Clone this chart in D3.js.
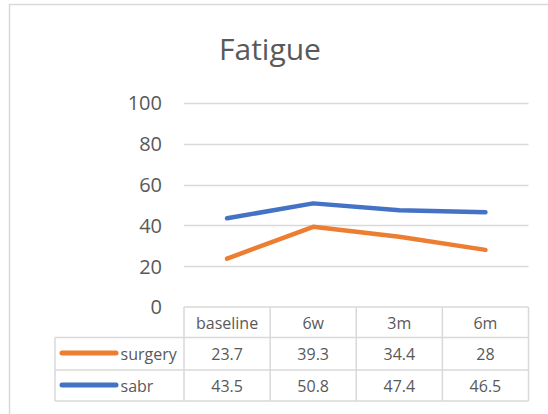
<!DOCTYPE html>
<html><head><meta charset="utf-8">
<script src="https://cdn.jsdelivr.net/npm/d3@7"></script>
<style>html,body{margin:0;padding:0;background:#fff;}svg{display:block;}</style>
</head><body>
<script>
const categories = ["baseline", "6w", "3m", "6m"];
const surgery = [23.7, 39.3, 34.4, 28];
const sabr = [43.5, 50.8, 47.4, 46.5];
const seriesNames = ["surgery", "sabr"];
const yTicks = [0, 20, 40, 60, 80, 100];
const title = "Fatigue";

const W = 548, H = 414;
const font = "'Open Sans', sans-serif";
const textColor = "#595959";
const gridColor = "#d9d9d9";
const colors = {surgery: "#ED7D31", sabr: "#4472C4"};
const series = [{name: "surgery", values: surgery}, {name: "sabr", values: sabr}];

const svg = d3.select("body").append("svg").attr("width", W).attr("height", H);
svg.append("rect").attr("width", W).attr("height", H).attr("fill", "#fff");

// chart frame (left and top edges visible)
svg.append("path").attr("d", `M9.5,${H+5} V4.5 H${W+5}`)
  .attr("fill", "none").attr("stroke", gridColor).attr("stroke-width", 1.5);

svg.append("text").attr("x", 270).attr("y", 60).attr("text-anchor", "middle")
  .attr("font-family", font).attr("font-size", 30).attr("fill", textColor).text(title);

const x = d3.scaleBand().domain(categories).range([184, 528.5]).padding(0);
const y = d3.scaleLinear().domain([0, 100]).range([307, 103]);

// gridlines
svg.append("g").selectAll("line").data(yTicks.filter(d => d > 0)).join("line")
  .attr("x1", 184).attr("x2", 528.5)
  .attr("y1", d => Math.round(y(d)) + 0.5).attr("y2", d => Math.round(y(d)) + 0.5)
  .attr("stroke", gridColor).attr("stroke-width", 1.3);

// y axis labels
const yAxis = d3.axisLeft(y).tickValues(yTicks).tickSize(0).tickPadding(0);
const ga = svg.append("g").attr("transform", "translate(162,0)").call(yAxis);
ga.select(".domain").remove();
ga.selectAll("text").attr("font-family", font).attr("font-size", 20).attr("fill", textColor)
  .attr("dy", "0.34em");

// lines
const line = d3.line().x((d, i) => x(categories[i]) + x.bandwidth() / 2).y(d => y(d));
svg.append("g").selectAll("path").data(series).join("path")
  .attr("d", d => line(d.values)).attr("fill", "none")
  .attr("stroke", d => colors[d.name]).attr("stroke-width", 4.5)
  .attr("stroke-linecap", "round").attr("stroke-linejoin", "round");

// data table
const tbl = svg.append("g");
const rowY = [307, 337.5, 370, 401];
const colX = [184, ...categories.map(c => x(c) + x.bandwidth())];
const stroke = gridColor, sw = 1.5;
// header row horizontal lines
tbl.append("line").attr("x1", 184).attr("x2", 528.5).attr("y1", rowY[0]).attr("y2", rowY[0]).attr("stroke", stroke).attr("stroke-width", sw);
[rowY[1], rowY[2], rowY[3]].forEach(yy => {
  tbl.append("line").attr("x1", 55).attr("x2", 528.5).attr("y1", yy).attr("y2", yy).attr("stroke", stroke).attr("stroke-width", sw);
});
colX.forEach(xx => {
  tbl.append("line").attr("x1", xx).attr("x2", xx).attr("y1", rowY[0]).attr("y2", rowY[3]).attr("stroke", stroke).attr("stroke-width", sw);
});
tbl.append("line").attr("x1", 55).attr("x2", 55).attr("y1", rowY[1]).attr("y2", rowY[3]).attr("stroke", stroke).attr("stroke-width", sw);

// header text
tbl.selectAll("text.hdr").data(categories).join("text").attr("class", "hdr")
  .attr("x", d => x(d) + x.bandwidth() / 2).attr("y", 328.5).attr("text-anchor", "middle")
  .attr("font-family", font).attr("font-size", 16).attr("fill", textColor).text(d => d);

const rowBase = [360, 392];
const rowMid = [353, 385];
series.forEach((s, r) => {
  tbl.append("line").attr("x1", 62).attr("x2", 116).attr("y1", rowMid[r]).attr("y2", rowMid[r])
    .attr("stroke", colors[s.name]).attr("stroke-width", 5).attr("stroke-linecap", "round");
  tbl.append("text").attr("x", 120.5).attr("y", rowBase[r]).attr("font-family", font)
    .attr("font-size", 16).attr("fill", textColor).text(s.name);
  tbl.selectAll(null).data(s.values).join("text")
    .attr("x", (d, i) => x(categories[i]) + x.bandwidth() / 2).attr("y", rowBase[r])
    .attr("text-anchor", "middle").attr("font-family", font).attr("font-size", 16)
    .attr("fill", textColor).text(d => d);
});
</script>
</body></html>
